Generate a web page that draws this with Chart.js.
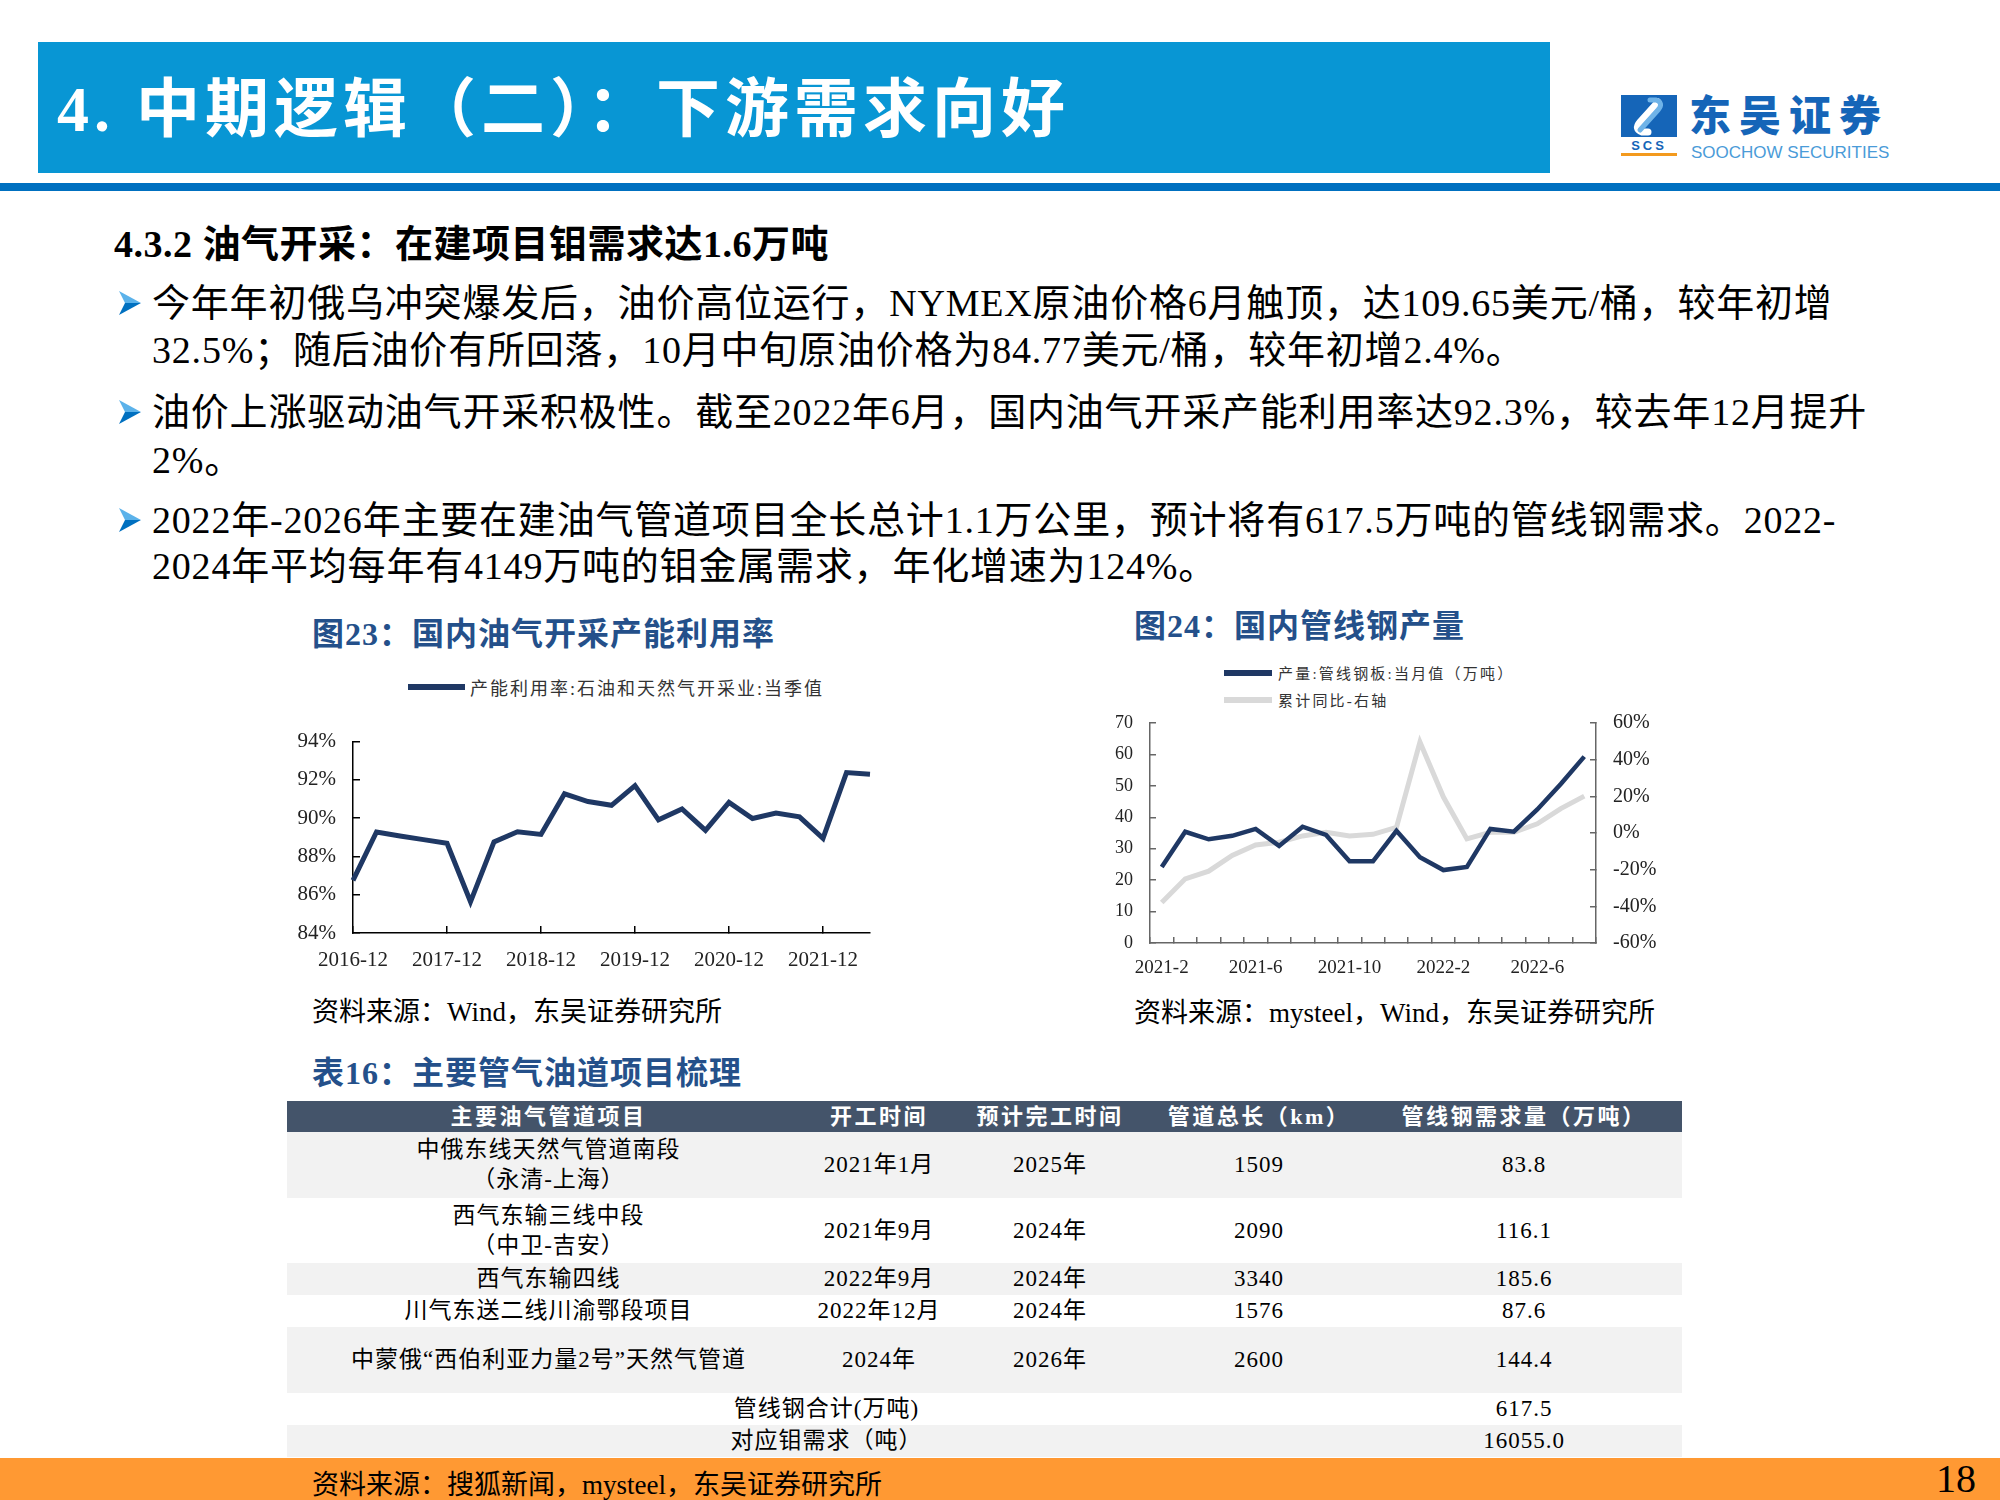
<!DOCTYPE html>
<html lang="zh-CN">
<head>
<meta charset="utf-8">
<script src="https://cdn.jsdelivr.net/npm/chart.js@4.4.0/dist/chart.umd.min.js"></script>
<style>
  body { margin: 0; width: 2000px; height: 1500px; position: relative; overflow: hidden; background: #fff;
         font-family: "Liberation Serif", "Noto Sans CJK SC", serif; color: #000; }
  .abs { position: absolute; white-space: nowrap; }
  .hdr { left: 38px; top: 42px; width: 1512px; height: 131px; background: #0896D4; }
  .hdr-title { left: 57px; top: 76px; font-size: 64px; line-height: 68px; font-weight: bold; color: #fff; letter-spacing: 5px; }
  .hdr-line { left: 0; top: 183px; width: 2000px; height: 8px; background: #0070C0; }
  .h2 { left: 114px; top: 222px; font-size: 38px; line-height: 44px; font-weight: bold; letter-spacing: 0.5px; }
  .body { left: 152px; font-size: 38px; line-height: 46px; letter-spacing: 0.8px; }
  .arrow { left: 117px; width: 26px; height: 26px; }
  .ttl { font-size: 32px; line-height: 38px; font-weight: bold; color: #24508A; letter-spacing: 1px; }
  .src { font-size: 27px; line-height: 34px; }
  .legend .lg-item { display: flex; align-items: center; white-space: nowrap; color: #333; }
  .legend .lg-line { display: inline-block; }
  #legend1 { left: 408px; top: 673px; font-size: 18px; letter-spacing: 2px; }
  #legend1 .lg-item { height: 28px; }
  #legend1 .lg-line { width: 57px; height: 6px; margin-right: 5px; }
  #legend2 { left: 1224px; top: 659px; font-size: 15px; letter-spacing: 2.2px; }
  #legend2 .lg-item { height: 27px; }
  #legend2 .lg-line { width: 48px; height: 6px; margin-right: 6px; }
  canvas { position: absolute; }
  table { position: absolute; left: 287px; top: 1101px; width: 1395px; border-collapse: collapse; table-layout: fixed; }
  th { background: #44546A; color: #fff; font-size: 22px; font-weight: bold; letter-spacing: 2.5px; height: 31px; padding: 0; line-height: 31px; }
  td { text-align: center; padding: 0; font-size: 23px; line-height: 30px; letter-spacing: 1px; }
  tr.g td { background: #F2F2F2; }
  .foot { left: 0; top: 1458px; width: 2000px; height: 42px; background: #FF9933; }
</style>
</head>
<body>

<div class="abs hdr"></div>
<div class="abs hdr-title">4. 中期逻辑（二）：下游需求向好</div>
<div class="abs hdr-line"></div>

<!-- logo -->
<svg class="abs" style="left:1618px;top:92px" width="62" height="68" viewBox="0 0 62 68">
  <rect x="3" y="3" width="56" height="42" fill="#1565B8"/>
  <path d="M40 10 L22 30 Q16 37 24 40 L30 40" stroke="#fff" stroke-width="7" fill="none" stroke-linecap="round"/>
  <path d="M22 38 L40 18 Q46 11 38 8 L32 8" stroke="#6FB3E8" stroke-width="5" fill="none" stroke-linecap="round"/>
  <text x="31" y="58" text-anchor="middle" font-family="Liberation Sans" font-weight="bold" font-size="13" fill="#1565B8" letter-spacing="3">SCS</text>
  <rect x="3" y="61" width="56" height="3" fill="#F39A1E"/>
</svg>
<div class="abs" style="left:1689px;top:91px;font-family:'Noto Sans CJK SC';font-weight:900;font-size:42px;line-height:44px;color:#1565B8;letter-spacing:8px">东吴证券</div>
<div class="abs" style="left:1691px;top:144px;font-family:'Liberation Sans';font-size:17px;line-height:18px;color:#4A9BD8">SOOCHOW SECURITIES</div>

<div class="abs h2">4.3.2 油气开采：在建项目钼需求达1.6万吨</div>

<svg class="abs arrow" style="top:290px" viewBox="0 0 26 26"><polygon points="2,1 24,13 8,13" fill="#5BB2EA"/><polygon points="2,25 24,13 8,13" fill="#0070C0"/></svg>
<div class="abs body" style="top:280px">今年年初俄乌冲突爆发后，油价高位运行，NYMEX原油价格6月触顶，达109.65美元/桶，较年初增</div>
<div class="abs body" style="top:327px">32.5%；随后油价有所回落，10月中旬原油价格为84.77美元/桶，较年初增2.4%。</div>
<svg class="abs arrow" style="top:399px" viewBox="0 0 26 26"><polygon points="2,1 24,13 8,13" fill="#5BB2EA"/><polygon points="2,25 24,13 8,13" fill="#0070C0"/></svg>
<div class="abs body" style="top:389px">油价上涨驱动油气开采积极性。截至2022年6月，国内油气开采产能利用率达92.3%，较去年12月提升</div>
<div class="abs body" style="top:437px">2%。</div>
<svg class="abs arrow" style="top:507px" viewBox="0 0 26 26"><polygon points="2,1 24,13 8,13" fill="#5BB2EA"/><polygon points="2,25 24,13 8,13" fill="#0070C0"/></svg>
<div class="abs body" style="top:497px">2022年-2026年主要在建油气管道项目全长总计1.1万公里，预计将有617.5万吨的管线钢需求。2022-</div>
<div class="abs body" style="top:543px">2024年平均每年有4149万吨的钼金属需求，年化增速为124%。</div>

<div class="abs ttl" style="left:312px;top:615px">图23：国内油气开采产能利用率</div>
<div class="abs legend" id="legend1"></div>
<canvas id="utilChart" width="700" height="285" style="left:250px;top:705px"></canvas>
<div class="abs src" style="left:312px;top:995px">资料来源：Wind，东吴证券研究所</div>

<div class="abs ttl" style="left:1134px;top:607px">图24：国内管线钢产量</div>
<div class="abs legend" id="legend2"></div>
<canvas id="steelChart" width="570" height="302" style="left:1090px;top:688px"></canvas>
<div class="abs src" style="left:1134px;top:996px">资料来源：mysteel，Wind，东吴证券研究所</div>

<div class="abs ttl" style="left:312px;top:1054px">表16：主要管气油道项目梳理</div>
<table>
  <colgroup><col style="width:523px"><col style="width:138px"><col style="width:204px"><col style="width:214px"><col style="width:316px"></colgroup>
  <tr><th>主要油气管道项目</th><th>开工时间</th><th>预计完工时间</th><th>管道总长（km）</th><th>管线钢需求量（万吨）</th></tr>
  <tr class="g" style="height:66px"><td>中俄东线天然气管道南段<br>（永清-上海）</td><td>2021年1月</td><td>2025年</td><td>1509</td><td>83.8</td></tr>
  <tr style="height:65px"><td>西气东输三线中段<br>（中卫-吉安）</td><td>2021年9月</td><td>2024年</td><td>2090</td><td>116.1</td></tr>
  <tr class="g" style="height:32px"><td>西气东输四线</td><td>2022年9月</td><td>2024年</td><td>3340</td><td>185.6</td></tr>
  <tr style="height:32px"><td>川气东送二线川渝鄂段项目</td><td>2022年12月</td><td>2024年</td><td>1576</td><td>87.6</td></tr>
  <tr class="g" style="height:66px"><td>中蒙俄“西伯利亚力量2号”天然气管道</td><td>2024年</td><td>2026年</td><td>2600</td><td>144.4</td></tr>
  <tr style="height:32px"><td colspan="4">管线钢合计(万吨)</td><td>617.5</td></tr>
  <tr class="g" style="height:32px"><td colspan="4">对应钼需求（吨）</td><td>16055.0</td></tr>
</table>

<div class="abs foot"></div>
<div class="abs src" style="left:312px;top:1468px">资料来源：搜狐新闻，mysteel，东吴证券研究所</div>
<div class="abs" style="left:1936px;top:1456px;font-size:40px;line-height:46px">18</div>

<script>
// 图23 产能利用率（季度，%）
const utilLabels = [
    '2016-12', '2017-03', '2017-06', '2017-09', '2017-12', '2018-03', '2018-06', '2018-09',
    '2018-12', '2019-03', '2019-06', '2019-09', '2019-12', '2020-03', '2020-06', '2020-09',
    '2020-12', '2021-03', '2021-06', '2021-09', '2021-12', '2022-03', '2022-06'
];
const utilValues = [
    86.75, 89.28, 89.07, 88.88, 88.69, 85.63, 88.76, 89.29,
    89.15, 91.27, 90.87, 90.67, 91.70, 89.91, 90.48, 89.36,
    90.82, 89.98, 90.27, 90.07, 88.95, 92.38, 92.30
];
const utilTickLabels = ['2016-12', '2017-12', '2018-12', '2019-12', '2020-12', '2021-12'];

// 图24 管线钢产量（万吨）与累计同比（%）
const steelLabels = [
    '2021-2', '2021-3', '2021-4', '2021-5', '2021-6', '2021-7', '2021-8', '2021-9', '2021-10',
    '2021-11', '2021-12', '2022-1', '2022-2', '2022-3', '2022-4', '2022-5', '2022-6', '2022-7', '2022-8'
];
const steelOutput = [
    24.2, 35.4, 33.0, 34.1, 36.3, 30.9, 37.0, 34.4, 26.0,
    26.0, 35.7, 27.3, 23.2, 24.2, 36.3, 35.4, 42.5, 50.6, 59.3
];
const steelYoy = [
    -37.9, -25.0, -20.8, -12.2, -6.5, -5.0, -1.6, 0.4, -1.6,
    -0.7, 3.1, 49.6, 19.6, -3.2, 0.4, 0.4, 5.0, 13.3, 20.1
];
const steelTickLabels = ['2021-2', '2021-6', '2021-10', '2022-2', '2022-6'];

Chart.defaults.font.family = '"Liberation Serif", "Noto Sans CJK SC", serif';
Chart.defaults.color = '#222';

// legend rendered as html, built from the chart's own legend items
const htmlLegend = {
    id: 'htmlLegend',
    afterUpdate(chart, args, opts) {
        const box = document.getElementById(opts.containerID);
        box.innerHTML = '';
        chart.options.plugins.legend.labels.generateLabels(chart).forEach(item => {
            const row = document.createElement('div');
            row.className = 'lg-item';
            const line = document.createElement('span');
            line.className = 'lg-line';
            line.style.background = item.strokeStyle;
            const txt = document.createElement('span');
            txt.textContent = item.text;
            row.append(line, txt);
            box.appendChild(row);
        });
    }
};

new Chart(document.getElementById('utilChart'), {
    type: 'line',
    data: {
        labels: utilLabels,
        datasets: [{
            label: '产能利用率:石油和天然气开采业:当季值',
            data: utilValues,
            borderColor: '#1F3864',
            backgroundColor: '#1F3864',
            borderWidth: 5,
            pointRadius: 0,
            tension: 0
        }]
    },
    options: {
        responsive: false,
        animation: false,
        layout: { padding: { top: 19, right: 80, left: 0, bottom: 0 } },
        plugins: {
            legend: { display: false },
            tooltip: { enabled: false },
            htmlLegend: { containerID: 'legend1' }
        },
        scales: {
            x: {
                offset: false,
                border: { color: '#000', width: 1.5 },
                grid: {
                    drawOnChartArea: false,
                    tickLength: -7,
                    lineWidth: 1.5,
                    color: ctx => (ctx.tick && ctx.tick.label) ? '#000' : 'rgba(0,0,0,0)'
                },
                ticks: {
                    autoSkip: false,
                    maxRotation: 0,
                    padding: 22,
                    color: '#222',
                    font: { size: 21 },
                    callback: function (v) {
                        const l = this.getLabelForValue(v);
                        return utilTickLabels.includes(l) ? l : '';
                    }
                },
                afterFit: s => { s.height = 57; }
            },
            y: {
                min: 84,
                max: 94,
                border: { color: '#000', width: 1.5 },
                grid: { drawOnChartArea: false, tickLength: -7, lineWidth: 1.5, color: '#000' },
                ticks: {
                    stepSize: 2,
                    padding: 24,
                    color: '#222',
                    font: { size: 21 },
                    callback: v => v + '%'
                },
                afterFit: s => { s.width = 103; }
            }
        }
    },
    plugins: [htmlLegend]
});

new Chart(document.getElementById('steelChart'), {
    type: 'line',
    data: {
        labels: steelLabels,
        datasets: [{
            label: '产量:管线钢板:当月值（万吨）',
            data: steelOutput,
            borderColor: '#1F3864',
            backgroundColor: '#1F3864',
            borderWidth: 4.5,
            pointRadius: 0,
            tension: 0,
            yAxisID: 'y'
        }, {
            label: '累计同比-右轴',
            data: steelYoy,
            borderColor: '#D9D9D9',
            backgroundColor: '#D9D9D9',
            borderWidth: 5,
            pointRadius: 0,
            tension: 0,
            yAxisID: 'y1'
        }]
    },
    options: {
        responsive: false,
        animation: false,
        layout: { padding: { top: 15, right: 0, left: 0, bottom: 0 } },
        plugins: {
            legend: { display: false },
            tooltip: { enabled: false },
            htmlLegend: { containerID: 'legend2' }
        },
        scales: {
            x: {
                offset: true,
                border: { color: '#666', width: 1.5 },
                grid: { offset: true, drawOnChartArea: false, tickLength: -6, lineWidth: 1.5, color: '#666' },
                ticks: {
                    autoSkip: false,
                    maxRotation: 0,
                    padding: 20,
                    color: '#222',
                    font: { size: 19 },
                    callback: function (v) {
                        const l = this.getLabelForValue(v);
                        return steelTickLabels.includes(l) ? l : '';
                    }
                },
                afterFit: s => { s.height = 47; }
            },
            y: {
                position: 'left',
                min: 0,
                max: 70,
                border: { color: '#666', width: 1.5 },
                grid: { drawOnChartArea: false, tickLength: -6, lineWidth: 1.5, color: '#666' },
                ticks: { stepSize: 10, padding: 23, color: '#222', font: { size: 18 } },
                afterFit: s => { s.width = 60; }
            },
            y1: {
                position: 'right',
                min: -60,
                max: 60,
                border: { color: '#666', width: 1.5 },
                grid: { drawOnChartArea: false, tickLength: -6, lineWidth: 1.5, color: '#666' },
                ticks: { stepSize: 20, padding: 23, color: '#222', font: { size: 20 }, callback: v => v + '%' },
                afterFit: s => { s.width = 64; }
            }
        }
    },
    plugins: [htmlLegend]
});
</script>
</body>
</html>
